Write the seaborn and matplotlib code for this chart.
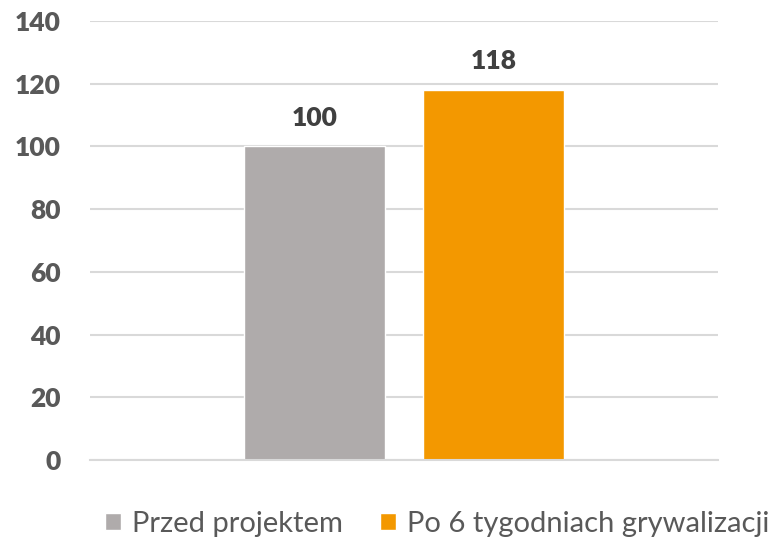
import pandas as pd
import seaborn as sns
import matplotlib.pyplot as plt

# data
series = ["Przed projektem", "Po 6 tygodniach grywalizacji"]
values = [100, 118]
colors = ["#AFABAB", "#F39800"]
yticks = [0, 20, 40, 60, 80, 100, 120, 140]

df = pd.DataFrame({"cat": [""] * len(series), "series": series, "value": values})

sns.set_style("white")
plt.rcParams["font.family"] = ["Lato", "DejaVu Sans"]

fig = plt.figure(figsize=(7.75, 5.47), dpi=100)
ax = fig.add_axes([0.1161, 0.159, 0.81, 0.8026])

sns.barplot(data=df, x="cat", y="value", hue="series", palette=colors,
            width=0.57, gap=0.21, ax=ax, legend=True, saturation=1)

ax.set_xlim(-0.5, 0.5)
ax.set_ylim(0, 140)
ax.set_yticks(yticks)
ax.set_yticklabels([str(t) for t in yticks], fontsize=19, fontweight="heavy", color="#595959")
ax.tick_params(axis="y", length=0, pad=21)
ax.tick_params(axis="x", length=0)
ax.set_xticks([])
ax.set_xlabel("")
ax.set_ylabel("")
ax.yaxis.grid(True, color="#D9D9D9", linewidth=1.5)
ax.set_axisbelow(True)
for s in ["top", "right", "left"]:
    ax.spines[s].set_visible(False)
ax.spines["bottom"].set_color("#D9D9D9")
ax.spines["bottom"].set_linewidth(1.5)

for c in ax.containers:
    for bar in c:
        ax.annotate(f"{bar.get_height():.0f}",
                    (bar.get_x() + bar.get_width() / 2, bar.get_height()),
                    xytext=(0, 12), textcoords="offset points",
                    ha="center", va="bottom", fontsize=19, fontweight="heavy", color="#404040")

handles, labels = ax.get_legend_handles_labels()
ax.get_legend().remove()
fig.legend(handles, labels, loc="center", bbox_to_anchor=(0.564, 0.042), ncol=2,
           frameon=False, fontsize=21, labelcolor="#595959",
           handlelength=0.55, handleheight=0.55, handletextpad=0.35, columnspacing=1.3)

fig.savefig("out.png", dpi=100)
